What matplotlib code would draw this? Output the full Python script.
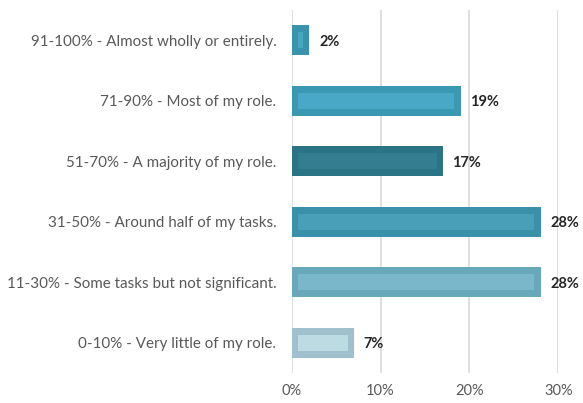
import matplotlib
matplotlib.use("Agg")
import matplotlib.pyplot as plt

categories = [
    "91-100% - Almost wholly or entirely.",
    "71-90% - Most of my role.",
    "51-70% - A majority of my role.",
    "31-50% - Around half of my tasks.",
    "11-30% - Some tasks but not significant.",
    "0-10% - Very little of my role.",
]
values = [2, 19, 17, 28, 28, 7]
value_labels = ["2%", "19%", "17%", "28%", "28%", "7%"]
xticks = [0, 10, 20, 30]
xtick_labels = ["0%", "10%", "20%", "30%"]

outer_colors = ["#3a93ad", "#3b98b3", "#2b7485", "#3990a9", "#68a8bb", "#9fc0cc"]
inner_colors = ["#48a6c1", "#48a8c5", "#347d90", "#4a9fb8", "#7bb7ca", "#bcdbe3"]

plt.rcParams["font.family"] = ["Lato", "DejaVu Sans"]

fig = plt.figure(figsize=(5.83, 4.03), dpi=100)
ax = fig.add_axes([0.5003, 0.0744, 0.4573, 0.9008])

n = len(categories)
ypos = list(range(n - 1, -1, -1))

ax.barh(ypos, values, height=0.5, color=outer_colors, zorder=2)
inset_x = 0.7
inner_w = [max(v - 2 * inset_x, 0.15) for v in values]
inner_left = [inset_x if v - 2 * inset_x > 0.15 else (v - 0.15) / 2 for v in values]
ax.barh(ypos, inner_w, left=inner_left, height=0.26, color=inner_colors, zorder=3)

for y, v, lab in zip(ypos, values, value_labels):
    ax.annotate(lab, (v, y), xytext=(7, -1), textcoords="offset points",
                ha="left", va="center", fontsize=10.5, fontweight="bold",
                color="#262626", zorder=4)

ax.set_xlim(0, 30)
ax.set_ylim(-0.5, n - 0.5)
ax.set_xticks(xticks)
ax.set_xticklabels(xtick_labels, color="#595959", fontsize=10.5)
ax.set_yticks(ypos)
ax.set_yticklabels(categories, color="#595959", fontsize=10.9)
ax.tick_params(axis="both", length=0)
ax.tick_params(axis="y", pad=11)
ax.tick_params(axis="x", pad=8)
ax.xaxis.grid(True, color="#dcdcdc", linewidth=1.3, zorder=0)
ax.set_axisbelow(True)
for s in ax.spines.values():
    s.set_visible(False)

fig.savefig("out.png", dpi=100)
